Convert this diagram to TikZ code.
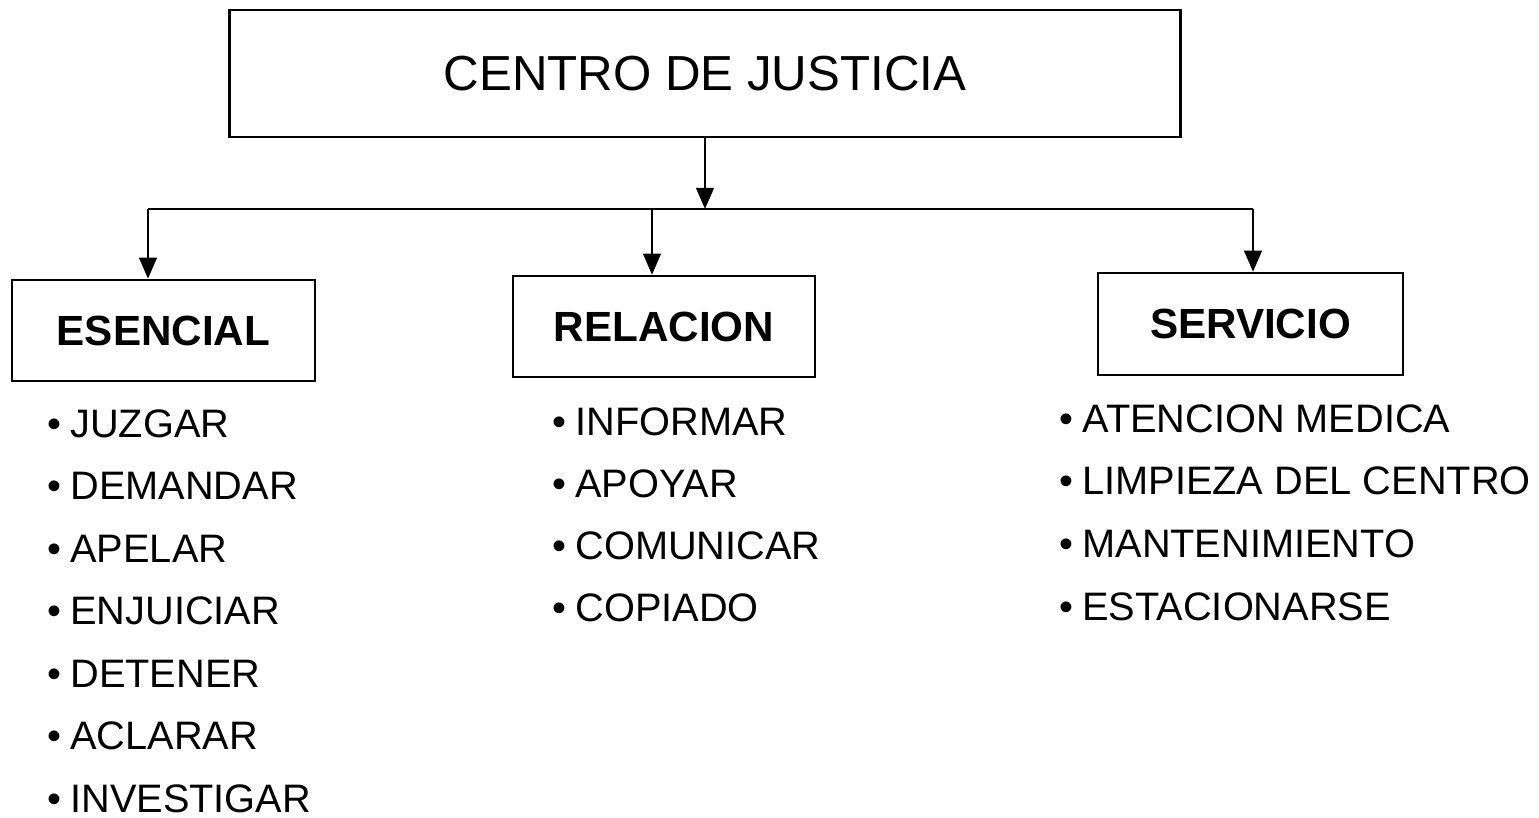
\documentclass[tikz,border=0pt]{standalone}
\usepackage{fontspec}
\setmainfont{Liberation Sans}
\usepackage{tikz}
\usetikzlibrary{arrows.meta}

\tikzset{
  box/.style={draw, line width=0.7pt, inner sep=0pt},
  arr/.style={line width=0.7pt, -{Triangle[width=5pt,length=6pt]}},
  item/.style={anchor=base west, inner sep=0pt, font=\fontsize{11.3}{13}\selectfont}
}

\begin{document}
\begin{tikzpicture}[x=0.01cm, y=-0.01cm]
\useasboundingbox (0,0) rectangle (1539,817);

\node[box, minimum width=9.5cm, minimum height=1.27cm, font=\fontsize{14}{17}\selectfont] (centro) at (705,73.5) {CENTRO DE JUSTICIA};
\node[box, minimum width=3.03cm, minimum height=1.01cm, font=\fontsize{12}{14}\selectfont\bfseries] (esencial) at (163.5,330.5) {ESENCIAL};
\node[box, minimum width=3.02cm, minimum height=1.01cm, font=\fontsize{12}{14}\selectfont\bfseries] (relacion) at (664,326.5) {RELACION};
\node[box, minimum width=3.05cm, minimum height=1.02cm, font=\fontsize{12}{14}\selectfont\bfseries] (servicio) at (1250.5,324) {SERVICIO};

\coordinate (hub) at (centro.south |- 0,209);
\coordinate (bE) at (148,209);
\coordinate (bR) at (652,209);
\coordinate (bS) at (1253,209);

\draw[arr] (centro.south) -- (hub);
\draw[line width=0.7pt] (bE) -- (bS);
\draw[arr] (bE) -- (bE |- esencial.north);
\draw[arr] (bR) -- (bR |- relacion.north);
\draw[arr] (bS) -- (bS |- servicio.north);

\foreach \w [count=\i] in {JUZGAR, DEMANDAR, APELAR, ENJUICIAR, DETENER, ACLARAR, INVESTIGAR}
  \node[item] (e\i) at (47, 437+62.5*\i-62.5) {•\kern2.5pt\w};
\foreach \w [count=\i] in {INFORMAR, APOYAR, COMUNICAR, COPIADO}
  \node[item] (r\i) at (552, 435+62.3*\i-62.3) {•\kern2.5pt\w};
\foreach \w [count=\i] in {ATENCION MEDICA, LIMPIEZA DEL CENTRO, MANTENIMIENTO, ESTACIONARSE}
  \node[item] (s\i) at (1059, 432+62.7*\i-62.7) {•\kern2.5pt\w};
\end{tikzpicture}
\end{document}
